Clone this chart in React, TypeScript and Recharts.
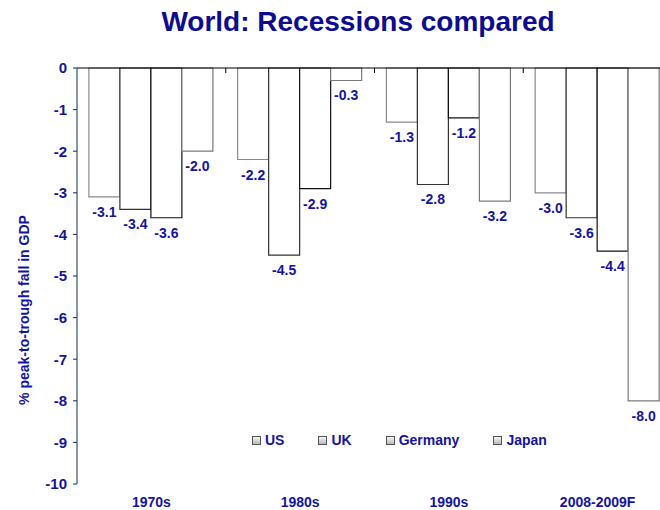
import { BarChart, Bar, XAxis, YAxis, ReferenceLine, Legend, LabelList, Label } from "recharts";

const periods = ["1970s", "1980s", "1990s", "2008-2009F"];
const us = [-3.1, -2.2, -1.3, -3.0];
const uk = [-3.4, -4.5, -2.8, -3.6];
const germany = [-3.6, -2.9, -1.2, -4.4];
const japan = [-2.0, -0.3, -3.2, -8.0];
const yTicks = [0, -1, -2, -3, -4, -5, -6, -7, -8, -9, -10];

const series = [
  { key: "us", name: "US", stroke: "#8a8a8a" },
  { key: "uk", name: "UK", stroke: "#333333" },
  { key: "germany", name: "Germany", stroke: "#111111" },
  { key: "japan", name: "Japan", stroke: "#7a7a7a" },
];

const data = periods.map((p, i) => ({
  period: p,
  us: us[i],
  uk: uk[i],
  germany: germany[i],
  japan: japan[i],
}));

const BLUE = "#14149c";
const FONT = "'Liberation Sans', Arial, sans-serif";
const PLOT_TOP = 68;
const PLOT_BOTTOM = 484;

const BarValue = (props: any) => {
  const vb = props.viewBox || props;
  const x = Number(vb.x);
  const y = Number(vb.y);
  const w = Number(vb.width);
  const h = Number(vb.height);
  const bottom = Math.max(y, y + h);
  return (
    <text x={x + w / 2} y={bottom + 20} textAnchor="middle" fill={BLUE}
      fontSize={14} fontWeight="bold" fontFamily={FONT}>
      {Number(props.value).toFixed(1)}
    </text>
  );
};

const PeriodTick = ({ x, payload }: any) => {
  const off = payload?.offset ?? 74.4;
  return (
    <g>
      <text x={x} y={PLOT_BOTTOM + 23} textAnchor="middle" fill={BLUE}
        fontSize={14} fontWeight="bold" fontFamily={FONT}>
        {payload.value}
      </text>
      <line x1={x + off} x2={x + off} y1={PLOT_TOP} y2={PLOT_TOP + 5} stroke="#000" />
    </g>
  );
};

const order = series.map((s) => s.name);

const LegendBox = ({ payload }: any) => {
  const items = [...(payload || [])].sort(
    (a: any, b: any) => order.indexOf(a.value) - order.indexOf(b.value)
  );
  return (
    <div style={{ display: "flex", alignItems: "center", fontFamily: FONT }}>
      {items.map((item: any) => (
        <div key={item.value} style={{ display: "flex", alignItems: "center", marginRight: 34 }}>
          <span style={{
            display: "inline-block", width: 7, height: 7, marginRight: 4,
            border: "1px solid #555", background: "linear-gradient(#f4f4f4, #b8b8b8)",
          }} />
          <span style={{ color: BLUE, fontSize: 14, fontWeight: "bold", lineHeight: "16px" }}>
            {item.value}
          </span>
        </div>
      ))}
    </div>
  );
};

export default function App() {
  return (
    <div style={{ position: "fixed", left: 0, top: 0, width: 660, height: 510, overflow: "hidden", background: "#fff" }}>
      <div style={{
        position: "absolute", left: 0, top: 8, width: 716, textAlign: "center",
        fontFamily: FONT, fontWeight: "bold", fontSize: 28, lineHeight: "28px", color: "#0c0c8f",
      }}>
        World: Recessions compared
      </div>
      <BarChart width={690} height={510} data={data}
        margin={{ top: PLOT_TOP, right: 18, left: 0, bottom: 0 }}
        barCategoryGap="8%" barGap={0}>
        <XAxis dataKey="period" height={26} axisLine={false} tickLine={false}
          tick={<PeriodTick />} interval={0} />
        <YAxis width={77} domain={[-10, 0]} ticks={yTicks} interval={0}
          axisLine={{ stroke: "#0d3050" }} tickLine={{ stroke: "#0d3050" }} tickSize={4} tickMargin={6}
          tick={{ fill: BLUE, fontSize: 15, fontWeight: "bold", fontFamily: FONT }}>
          <Label
            content={() => (
              <text x={25} y={310} transform="rotate(-90 25 310)" textAnchor="middle" fill={BLUE}
                fontSize={14} fontWeight="bold" fontFamily={FONT} dominantBaseline="middle">
                % peak-to-trough fall in GDP
              </text>
            )}
          />
        </YAxis>
        <Legend content={<LegendBox />} layout="horizontal" verticalAlign="middle" align="center"
          wrapperStyle={{ position: "absolute", left: 252, top: 432, width: "auto" }} />
        {series.map((s) => (
          <Bar key={s.key} dataKey={s.key} name={s.name} fill="#ffffff" stroke={s.stroke}
            strokeWidth={1.2} isAnimationActive={false}>
            <LabelList dataKey={s.key} content={<BarValue />} />
          </Bar>
        ))}
        <ReferenceLine y={0} stroke="#000" strokeWidth={1} />
      </BarChart>
    </div>
  );
}
